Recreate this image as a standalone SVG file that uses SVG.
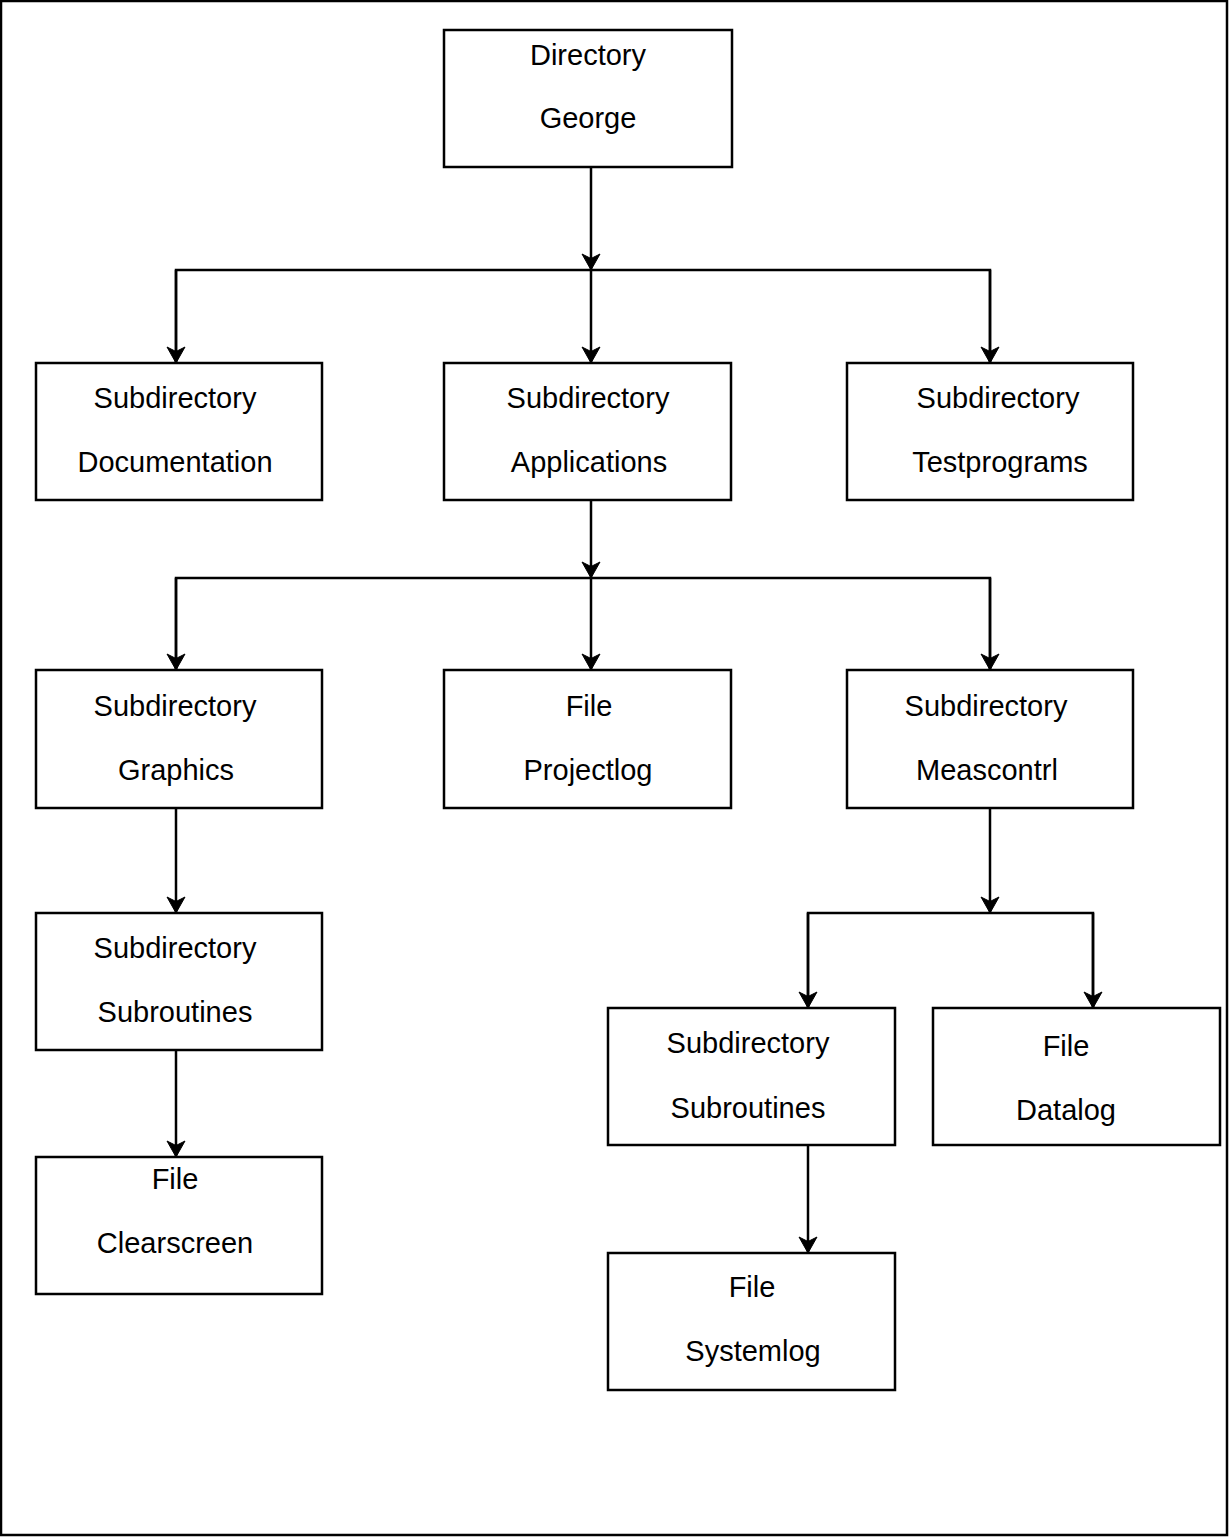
<svg xmlns="http://www.w3.org/2000/svg" width="1229" height="1537" viewBox="0 0 1229 1537">
<style>
.box{fill:#fff;stroke:#000;stroke-width:2.5}
.t{font-family:"Liberation Sans",Arial,Helvetica,sans-serif;font-size:29px;fill:#000;text-anchor:middle}
.c{fill:none;stroke:#000;stroke-width:2.5}
.a{marker-end:url(#arr)}
</style>
<defs>
<marker id="arr" markerUnits="userSpaceOnUse" orient="auto" markerWidth="30" markerHeight="30" refX="20" refY="15" overflow="visible">
<path d="M21,15 L5,6 L9.5,15 L5,24 Z" fill="#000" stroke="#000" stroke-width="1"/>
</marker>
</defs>
<rect x="1" y="1" width="1226" height="1534" fill="#fff" stroke="#000" stroke-width="2.5"/>
<g id="connectors">
<path class="c a" d="M591,168 V269"/>
<path class="c" d="M176,362 V270 H990 V362"/>
<path class="c a" d="M176,270 V362"/>
<path class="c a" d="M591,270 V362"/>
<path class="c a" d="M990,270 V362"/>
<path class="c a" d="M591,501 V577"/>
<path class="c" d="M176,670 V578 H990 V670"/>
<path class="c a" d="M176,578 V669"/>
<path class="c a" d="M591,578 V669"/>
<path class="c a" d="M990,578 V669"/>
<path class="c a" d="M176,808 V912"/>
<path class="c a" d="M176,1050 V1156"/>
<path class="c a" d="M990,808 V912"/>
<path class="c" d="M808,1008 V913 H1093 V1008"/>
<path class="c a" d="M808,913 V1007"/>
<path class="c a" d="M1093,913 V1007"/>
<path class="c a" d="M808,1145 V1252"/>
</g>
<g id="n-george"><rect class="box" x="444" y="30" width="288" height="137"/><text class="t" x="588" y="65">Directory</text><text class="t" x="588" y="128">George</text></g>
<g id="n-documentation"><rect class="box" x="36" y="363" width="286" height="137"/><text class="t" x="175" y="408">Subdirectory</text><text class="t" x="175" y="472">Documentation</text></g>
<g id="n-applications"><rect class="box" x="444" y="363" width="287" height="137"/><text class="t" x="588" y="408">Subdirectory</text><text class="t" x="589" y="472">Applications</text></g>
<g id="n-testprograms"><rect class="box" x="847" y="363" width="286" height="137"/><text class="t" x="998" y="408">Subdirectory</text><text class="t" x="1000" y="472">Testprograms</text></g>
<g id="n-graphics"><rect class="box" x="36" y="670" width="286" height="138"/><text class="t" x="175" y="716">Subdirectory</text><text class="t" x="176" y="780">Graphics</text></g>
<g id="n-projectlog"><rect class="box" x="444" y="670" width="287" height="138"/><text class="t" x="589" y="716">File</text><text class="t" x="588" y="780">Projectlog</text></g>
<g id="n-meascontrl"><rect class="box" x="847" y="670" width="286" height="138"/><text class="t" x="986" y="716">Subdirectory</text><text class="t" x="987" y="780">Meascontrl</text></g>
<g id="n-subroutines1"><rect class="box" x="36" y="913" width="286" height="137"/><text class="t" x="175" y="958">Subdirectory</text><text class="t" x="175" y="1022">Subroutines</text></g>
<g id="n-clearscreen"><rect class="box" x="36" y="1157" width="286" height="137"/><text class="t" x="175" y="1189">File</text><text class="t" x="175" y="1253">Clearscreen</text></g>
<g id="n-subroutines2"><rect class="box" x="608" y="1008" width="287" height="137"/><text class="t" x="748" y="1053">Subdirectory</text><text class="t" x="748" y="1118">Subroutines</text></g>
<g id="n-datalog"><rect class="box" x="933" y="1008" width="287" height="137"/><text class="t" x="1066" y="1056">File</text><text class="t" x="1066" y="1120">Datalog</text></g>
<g id="n-systemlog"><rect class="box" x="608" y="1253" width="287" height="137"/><text class="t" x="752" y="1297">File</text><text class="t" x="753" y="1361">Systemlog</text></g>
</svg>
